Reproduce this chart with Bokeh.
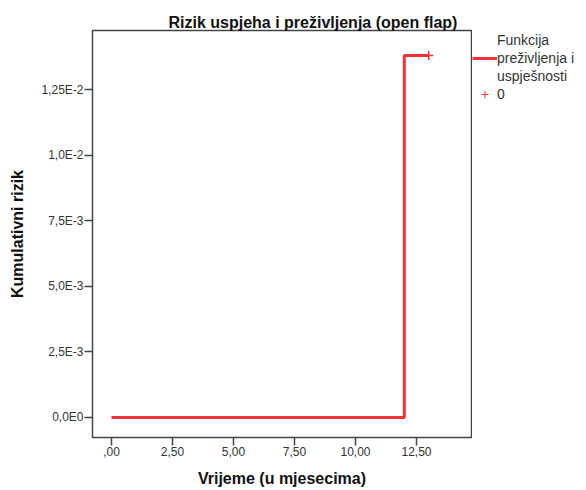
from bokeh.plotting import figure
from bokeh.layouts import row
from bokeh.models import FixedTicker, Range1d, Legend, LegendItem, ColumnDataSource
from bokeh.embed import file_html
from bokeh.resources import INLINE

# ---- data ----
times = [0.0, 12.0, 13.0]
cum_risk = [0.0, 0.0138, 0.0138]
censor_times = [13.0]
censor_risk = [0.0138]

x_ticks = [0.0, 2.5, 5.0, 7.5, 10.0, 12.5]
x_tick_labels = [",00", "2,50", "5,00", "7,50", "10,00", "12,50"]
y_ticks = [0.0, 0.0025, 0.005, 0.0075, 0.01, 0.0125]
y_tick_labels = ["0,0E0", "2,5E-3", "5,0E-3", "7,5E-3", "1,0E-2", "1,25E-2"]

title_text = "Rizik uspjeha i preživljenja (open flap)"
x_label = "Vrijeme (u mjesecima)"
y_label = "Kumulativni rizik"
legend_lines = ["Funkcija", "preživljenja i", "uspješnosti"]
censor_label = "0"

RED = "#ee3338"
FONT = "Liberation Sans"

p = figure(width=472, height=490, output_backend="svg", toolbar_location=None,
           x_range=Range1d(-0.778, 14.754), y_range=Range1d(-0.000763, 0.01475),
           min_border_left=92, min_border_right=1, min_border_top=30, min_border_bottom=53)

p.background_fill_color = "white"
p.border_fill_color = "white"
p.outline_line_color = "#444444"
p.outline_line_width = 1.5
p.xgrid.visible = False
p.ygrid.visible = False

p.title.text = title_text
p.title.text_font = FONT
p.title.text_font_size = "16px"
p.title.text_font_style = "bold"
p.title.text_color = "#111111"
p.title.align = "left"
p.title.offset = 76
p.title.standoff = 0

for ax, ticks, labels in ((p.xaxis[0], x_ticks, x_tick_labels), (p.yaxis[0], y_ticks, y_tick_labels)):
    ax.ticker = FixedTicker(ticks=ticks)
    ax.major_label_overrides = {t: l for t, l in zip(ticks, labels)}
    ax.axis_line_color = None
    ax.major_tick_line_color = "#444444"
    ax.major_tick_line_width = 1.5
    ax.major_tick_out = 8
    ax.major_tick_in = 0
    ax.minor_tick_line_color = None
    ax.major_label_text_font = FONT
    ax.major_label_text_font_size = "12px"
    ax.major_label_text_color = "#333333"
    ax.axis_label_text_font = FONT
    ax.axis_label_text_font_size = "16px"
    ax.axis_label_text_font_style = "bold"
    ax.axis_label_text_color = "#111111"

p.xaxis.axis_label = x_label
p.xaxis.major_label_standoff = 1
p.xaxis.axis_label_standoff = 11
p.yaxis.axis_label = y_label
p.yaxis.major_label_standoff = 1
p.yaxis.axis_label_standoff = 12
p.yaxis.major_label_orientation = "horizontal"

src = ColumnDataSource(dict(t=times, r=cum_risk))
p.step("t", "r", source=src, mode="after", line_color=RED, line_width=3)
cens_src = ColumnDataSource(dict(t=censor_times, r=censor_risk))
p.scatter("t", "r", source=cens_src, marker="cross", size=9,
          line_color=RED, line_width=1.5)

# ---- legend panel (separate figure to the right of the frame) ----
# Its ranges lie outside the data, so the proxy glyphs only show in the legend.
lp = figure(width=114, height=490, output_backend="svg", toolbar_location=None,
            x_range=Range1d(-20, -19), y_range=Range1d(-20, -19), min_border=0)
lp.axis.visible = False
lp.xgrid.visible = False
lp.ygrid.visible = False
lp.outline_line_color = None
lp.background_fill_color = "white"
lp.border_fill_color = "white"

blank_proxy = lp.line("t", "r", source=src, line_alpha=0)
step_proxy = lp.step("t", "r", source=src, mode="after", line_color=RED, line_width=3)
cross_proxy = lp.scatter("t", "r", source=cens_src, marker="cross", size=14,
                         line_color=RED, line_width=1)

legend = Legend(items=[LegendItem(label=legend_lines[0], renderers=[blank_proxy]),
                       LegendItem(label=legend_lines[1], renderers=[step_proxy]),
                       LegendItem(label=legend_lines[2], renderers=[blank_proxy]),
                       LegendItem(label=censor_label, renderers=[cross_proxy])],
                location=(0, 334), margin=0, padding=0, spacing=0,
                glyph_width=25, glyph_height=18, label_height=18, label_standoff=0,
                border_line_color=None, background_fill_alpha=0,
                label_text_font=FONT, label_text_font_size="14px",
                label_text_color="#333333")
lp.add_layout(legend)

layout = row(p, lp, spacing=0)
open("out.html", "w").write(file_html(layout, INLINE))
